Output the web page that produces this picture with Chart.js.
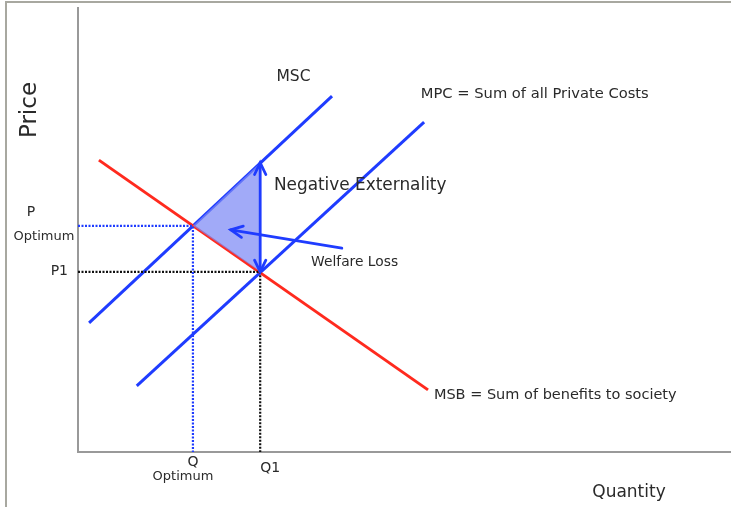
<!DOCTYPE html>
<html>
<head>
<meta charset="utf-8">
<script src="https://cdn.jsdelivr.net/npm/chart.js@4"></script>
<style>
  html, body { margin: 0; padding: 0; background: #fff; }
  #wrap { width: 731px; height: 507px; }
</style>
</head>
<body>
<div id="wrap"><canvas id="chart" width="731" height="507"></canvas></div>
<script>
// quantity / price units, 0..100 on both axes
const msb = [{x: 3.2, y: 65.3}, {x: 53.6, y: 13.9}];
const msc = [{x: 1.7, y: 28.9}, {x: 38.9, y: 79.6}];
const mpc = [{x: 9.0, y: 14.8}, {x: 53.0, y: 73.8}];

const qOpt = 17.6, pOpt = 50.6;
const q1 = 27.9, p1 = 40.3;
const extTop = 64.7;

const welfareLoss = [{x: qOpt, y: pOpt}, {x: q1, y: extTop}, {x: q1, y: p1}, {x: qOpt, y: pOpt}];
const optGuide = [{x: 0, y: pOpt}, {x: qOpt, y: pOpt}, {x: qOpt, y: 0}];
const p1Guide = [{x: 0, y: p1}, {x: q1, y: p1}, {x: q1, y: 0}];
const welfareArrow = [{x: 40.4, y: 45.6}, {x: 23.4, y: 49.7}];

const labels = [
  {text: 'MSC', x: 33.0, y: 84.0, size: 15.5, align: 'center'},
  {text: 'MPC = Sum of all Private Costs', x: 52.5, y: 80.0, size: 14.7, align: 'left'},
  {text: 'Negative Externality', x: 30.0, y: 59.5, size: 16.9, align: 'left'},
  {text: 'Welfare Loss', x: 35.7, y: 42.5, size: 13.8, align: 'left'},
  {text: 'MSB = Sum of benefits to society', x: 54.5, y: 12.6, size: 14.5, align: 'left'}
];

const blue = '#1f3cff';
const red = '#ff2a1e';
const ink = '#2a2a2a';

function arrowHead(ctx, fx, fy, tx, ty, len) {
  const a = Math.atan2(ty - fy, tx - fx);
  ctx.beginPath();
  ctx.moveTo(tx - len * Math.cos(a - 0.45), ty - len * Math.sin(a - 0.45));
  ctx.lineTo(tx, ty);
  ctx.lineTo(tx - len * Math.cos(a + 0.45), ty - len * Math.sin(a + 0.45));
  ctx.stroke();
}

const decor = {
  id: 'decor',
  beforeDatasetsDraw(chart) {
    const ctx = chart.ctx, ys = chart.scales.y;
    const a = chart.chartArea;
    ctx.save();
    // frame
    ctx.strokeStyle = '#a8a8a0';
    ctx.lineWidth = 2;
    ctx.beginPath();
    ctx.moveTo(6, 507);
    ctx.lineTo(6, 2);
    ctx.lineTo(731, 2);
    ctx.stroke();
    // axes
    ctx.strokeStyle = '#999';
    ctx.lineWidth = 2;
    ctx.beginPath();
    ctx.moveTo(a.left, a.top + 2);
    ctx.lineTo(a.left, ys.getPixelForValue(0));
    ctx.lineTo(a.right, ys.getPixelForValue(0));
    ctx.stroke();
    ctx.restore();
  },
  afterDatasetsDraw(chart) {
    const ctx = chart.ctx, xs = chart.scales.x, ys = chart.scales.y;
    ctx.save();
    ctx.strokeStyle = blue;
    ctx.lineWidth = 2.8;
    ctx.lineCap = 'round';
    // negative externality double arrow
    const ax = xs.getPixelForValue(q1);
    const ay1 = ys.getPixelForValue(extTop), ay2 = ys.getPixelForValue(p1);
    ctx.beginPath();
    ctx.moveTo(ax, ay1);
    ctx.lineTo(ax, ay2);
    ctx.stroke();
    arrowHead(ctx, ax, ay2, ax, ay1, 13);
    arrowHead(ctx, ax, ay1, ax, ay2, 13);
    // welfare loss pointer
    const w0x = xs.getPixelForValue(welfareArrow[0].x), w0y = ys.getPixelForValue(welfareArrow[0].y);
    const w1x = xs.getPixelForValue(welfareArrow[1].x), w1y = ys.getPixelForValue(welfareArrow[1].y);
    ctx.beginPath();
    ctx.moveTo(w0x, w0y);
    ctx.lineTo(w1x, w1y);
    ctx.stroke();
    arrowHead(ctx, w0x, w0y, w1x, w1y, 13);

    // labels
    ctx.fillStyle = ink;
    ctx.textBaseline = 'middle';
    labels.forEach(l => {
      ctx.font = l.size + 'px "DejaVu Sans"';
      ctx.textAlign = l.align;
      ctx.fillText(l.text, xs.getPixelForValue(l.x), ys.getPixelForValue(l.y));
    });
    // axis labels
    const py = ys.getPixelForValue(pOpt), p1y = ys.getPixelForValue(p1);
    const qx = xs.getPixelForValue(qOpt), q1x = xs.getPixelForValue(q1);
    ctx.font = '14px "DejaVu Sans"';
    ctx.textAlign = 'center';
    ctx.fillText('P', 31, py - 13);
    ctx.font = '13px "DejaVu Sans"';
    ctx.fillText('Optimum', 44, py + 11);
    ctx.font = '14px "DejaVu Sans"';
    ctx.textAlign = 'right';
    ctx.fillText('P1', 68, p1y);
    ctx.textAlign = 'center';
    ctx.fillText('Q', qx, 462);
    ctx.font = '13px "DejaVu Sans"';
    ctx.fillText('Optimum', qx - 10, 477);
    ctx.font = '14px "DejaVu Sans"';
    ctx.fillText('Q1', q1x + 10, 468);
    ctx.font = '17px "DejaVu Sans"';
    ctx.fillText('Quantity', 629, 493);
    ctx.save();
    ctx.translate(30, 110);
    ctx.rotate(-Math.PI / 2);
    ctx.font = '23px "DejaVu Sans"';
    ctx.fillText('Price', 0, 0);
    ctx.restore();
    ctx.restore();
  }
};

new Chart(document.getElementById('chart').getContext('2d'), {
  type: 'scatter',
  data: {
    datasets: [
      {data: welfareLoss, showLine: true, fill: 'shape', backgroundColor: 'rgba(125,137,245,0.72)', borderWidth: 0, pointRadius: 0},
      {data: optGuide, showLine: true, borderColor: blue, borderWidth: 2.2, borderDash: [2, 1.5], pointRadius: 0},
      {data: p1Guide, showLine: true, borderColor: '#111', borderWidth: 2.2, borderDash: [2, 1.5], pointRadius: 0},
      {data: msb, showLine: true, borderColor: red, borderWidth: 3, pointRadius: 0},
      {data: msc, showLine: true, borderColor: blue, borderWidth: 3, pointRadius: 0},
      {data: mpc, showLine: true, borderColor: blue, borderWidth: 3, pointRadius: 0}
    ]
  },
  options: {
    responsive: false,
    animation: false,
    layout: {padding: {left: 78, right: 0, top: 5, bottom: 55}},
    plugins: {legend: {display: false}, tooltip: {enabled: false}},
    scales: {
      x: {type: 'linear', min: 0, max: 100, display: false},
      y: {type: 'linear', min: 0, max: 100, display: false}
    }
  },
  plugins: [decor]
});
</script>
</body>
</html>
